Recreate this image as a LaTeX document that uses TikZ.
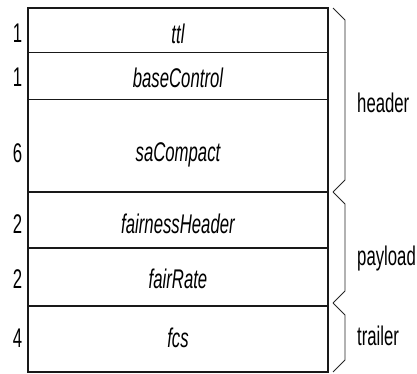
\documentclass[tikz,border=0pt]{standalone}
\usepackage{fontspec}
\setmainfont[FakeStretch=0.62]{Liberation Sans}
\begin{document}
\begin{tikzpicture}[x=1pt,y=-1pt,
	field/.style={draw=black!90, line width=1.3pt},
	fieldname/.style={anchor=base, inner sep=0pt, font=\itshape},
	size/.style={anchor=base, inner sep=0pt},
	group/.style={anchor=base west, inner sep=0pt},
	brace/.style={draw=black!85, line width=0.9pt}]
	\fontsize{27}{27}\selectfont
	\useasboundingbox (0,0) rectangle (417,374);
	% fields of the packet
	\draw[field] (28,8) rectangle (328,52.5);
	\draw[field] (28,52.5) rectangle (328,99.5);
	\draw[field] (28,99.5) rectangle (328,192);
	\draw[field] (28,192) rectangle (328,248);
	\draw[field] (28,248) rectangle (328,306);
	\draw[field] (28,306) rectangle (328,372);
	\node[fieldname] (ttl) at (178,44) {ttl};
	\node[fieldname] (base) at (178,88) {baseControl};
	\node[fieldname] (sa) at (178,161) {saCompact};
	\node[fieldname] (fh) at (178,233) {fairnessHeader};
	\node[fieldname] (fr) at (178,288) {fairRate};
	\node[fieldname] (fcs) at (178,347) {fcs};
	% sizes
	\node[size] (nttl) at (17.5,43) {1};
	\node[size] (nbase) at (17.5,87) {1};
	\node[size] (nsa) at (17.5,162) {6};
	\node[size] (nfh) at (17.5,233) {2};
	\node[size] (nfr) at (17.5,288) {2};
	\node[size] (nfcs) at (17.5,347) {4};
	% braces
	\coordinate (b0) at (333,8);
	\coordinate (b1) at (333,192);
	\coordinate (b2) at (333,303);
	\coordinate (b3) at (333,372);
	\draw[brace] (b0) -- ++(12,12) |- ([xshift=12pt,yshift=12pt]b1) -- (b1);
	\draw[brace] (b1) -- ++(12,12) |- ([xshift=12pt,yshift=12pt]b2) -- (b2);
	\draw[brace] (b2) -- ++(12,12) |- ([xshift=12pt,yshift=12pt]b3) -- (b3);
	\node[group] (header) at (357,113) {header};
	\node[group] (payload) at (357,265) {payload};
	\node[group] (trailer) at (357,345) {trailer};
\end{tikzpicture}
\end{document}
